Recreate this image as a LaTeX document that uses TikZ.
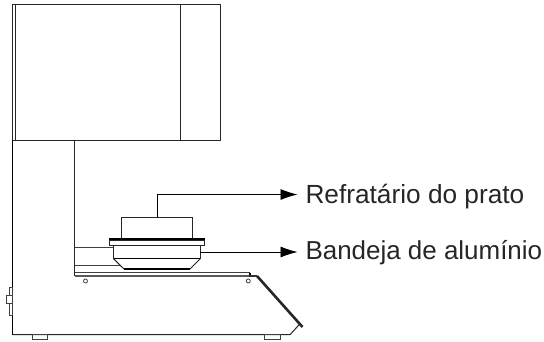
\documentclass[tikz,border=0pt]{standalone}
\usetikzlibrary{arrows.meta}
\usepackage{fontspec}
\setmainfont{Liberation Sans}
\begin{document}
\begin{tikzpicture}[x=1pt,y=-1pt,
  ln/.style={line width=1pt,draw=black!85},
  thin ln/.style={line width=0.8pt,draw=black!75},
  hv/.style={line width=1.5pt,draw=black},
  lbl/.style={anchor=base west,inner ysep=0pt,inner xsep=0pt,outer sep=0pt,font=\fontsize{19.3}{22}\selectfont,text=black!85},
  arr/.style={line width=0.8pt,-{Latex[length=17pt,width=11pt]}}]
\useasboundingbox (0,0) rectangle (544,341);
% head
\draw[ln] (12.5,4.5) rectangle (220.5,140);
\draw[ln] (15,4.5) -- (15,140);
\draw[ln] (180.5,4.5) -- (180.5,140);
% body
\draw[hv] (12.5,140) -- (12.5,334.7);
\draw[ln] (12.5,334.7) -- (290,334.7) -- (299.3,324.5);
\draw[ln] (74.5,140) -- (74.5,276);
% feet
\draw[thin ln] (32.5,334.7) rectangle (47.5,339.5);
\draw[thin ln] (264.5,334.7) rectangle (280,339.5);
% side connector
\draw[thin ln] (9.5,287) rectangle (12.5,315);
\draw[thin ln,fill=white] (6,295.5) rectangle (12,303.5);
% platform
\draw[line width=1.8pt,draw=black!65] (74.5,276) -- (250,276);
\draw[thin ln] (74.5,272) -- (250,272);
\draw[hv] (250,272.5) -- (250,275.5);
\draw[line width=1.2pt,draw=black!80] (249,276) -- (257,276);
\draw[line width=2.6pt,draw=black!85] (257,276) -- (302.5,327);
\draw[thin ln] (85.5,281) circle (2);
\draw[thin ln] (248.3,281) circle (2);
% left rails
\draw[thin ln] (74.5,247.5) -- (113.5,247.5);
\draw[thin ln] (74.5,265.5) -- (120,265.5);
% crucible and tray
\coordinate (cr) at (157,217);
\draw[ln] (121.3,238) -- (121.3,217) -- (192.5,217) -- (192.5,238);
\draw[ln] (109.3,240) rectangle (204.7,245);
\draw[line width=2.2pt] (109.3,239.3) -- (204.7,239.3);
\draw[ln] (113.5,245) -- (113.5,258.7);
\draw[ln] (200.3,245) -- (200.3,258.7);
\draw[hv] (113.5,258.7) -- (200.3,258.7);
\draw[ln] (113.5,258.7) -- (124,269);
\draw[ln] (200.3,258.7) -- (190,269);
\draw[line width=1.8pt] (124,269) -- (190,269);
% labels and arrows
\node[lbl,scale=1.36] (a) at (305.5,203) {Refratário do prato};
\node[lbl,scale=1.345] (b) at (305.5,259.5) {Bandeja de alumínio};
\coordinate (ae) at (297.5,194.5);
\coordinate (be) at (297.5,252);
\coordinate (tr) at (200.3,252);
\draw[arr] (cr) |- (ae);
\draw[arr] (tr) -- (be);
\end{tikzpicture}
\end{document}
